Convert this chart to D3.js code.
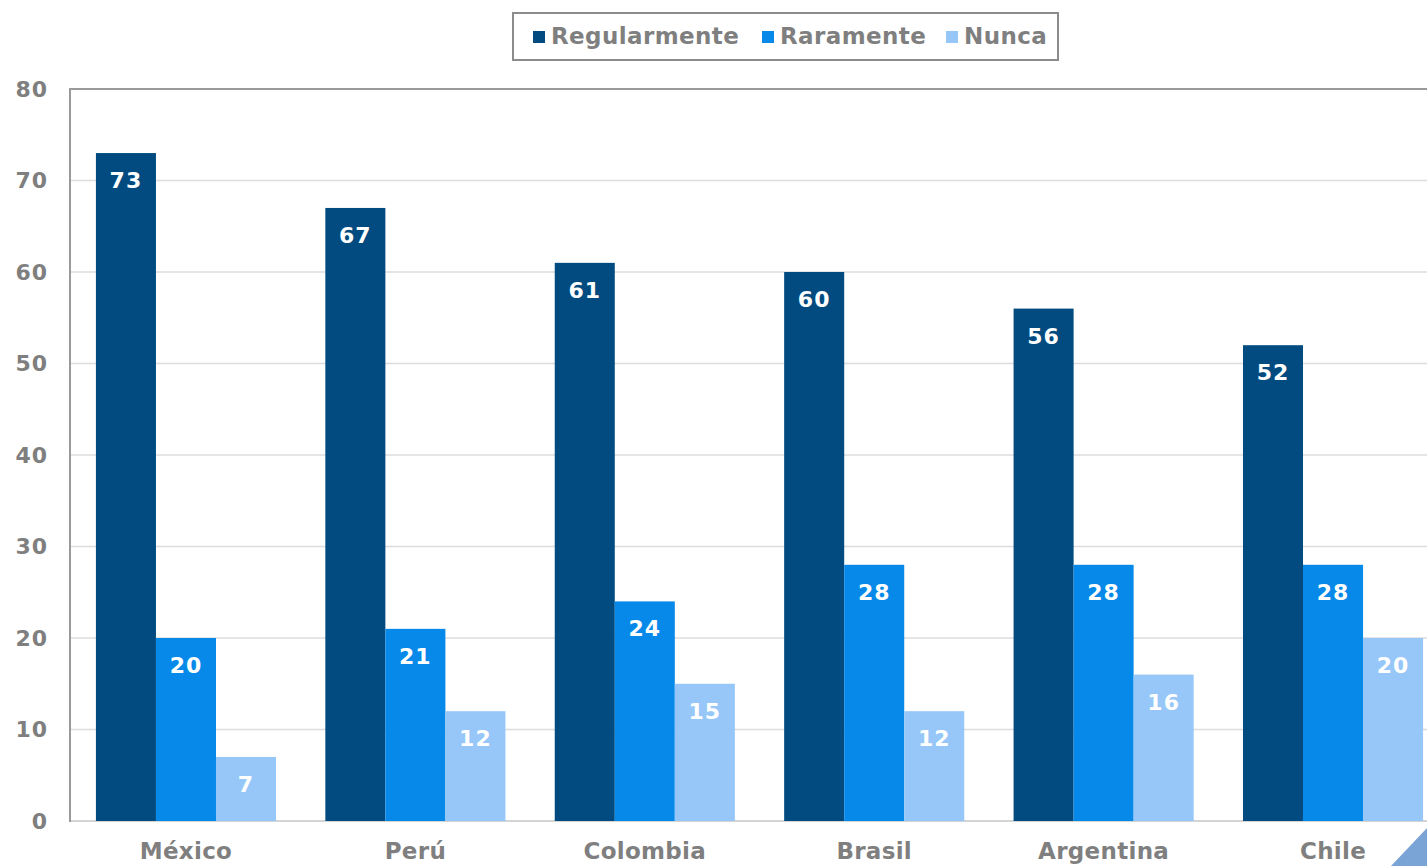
<!DOCTYPE html>
<html>
<head>
<meta charset="utf-8">
<script src="https://cdn.jsdelivr.net/npm/d3@7"></script>
<style>
  html, body { margin: 0; padding: 0; background: #fff; }
  svg { display: block; }
  text { font-family: "DejaVu Sans", Verdana, sans-serif; font-weight: bold; }
</style>
</head>
<body>
<svg id="chart" width="1427" height="866"></svg>
<script>
// Frequency by country
const countries = ["México", "Perú", "Colombia", "Brasil", "Argentina", "Chile"];
const seriesNames = ["Regularmente", "Raramente", "Nunca"];
const regularmente = [73, 67, 61, 60, 56, 52];
const raramente = [20, 21, 24, 28, 28, 28];
const nunca = [7, 12, 15, 12, 16, 20];
const yTicks = [0, 10, 20, 30, 40, 50, 60, 70, 80];
const colors = ["#014b80", "#0789e9", "#96c7f8"];

const seriesValues = [regularmente, raramente, nunca];
const rows = countries.map((c, i) => ({
  country: c,
  values: seriesNames.map((s, j) => ({ series: s, value: seriesValues[j][i], color: colors[j] }))
}));

const svg = d3.select("#chart");
const W = 1427, H = 866;
const plot = { left: 70, top: 89, bottom: 821, right: 1449 };

const x = d3.scaleBand()
  .domain(countries)
  .range([plot.left, plot.right])
  .paddingInner(0.215)
  .paddingOuter(0.113);

const xSub = d3.scaleBand()
  .domain(seriesNames)
  .range([0, x.bandwidth()]);

const y = d3.scaleLinear().domain([0, 80]).range([plot.bottom, plot.top]);

// Gridlines
svg.append("g")
  .selectAll("line")
  .data(yTicks.filter(t => t > 0 && t < 80))
  .join("line")
  .attr("x1", plot.left).attr("x2", W)
  .attr("y1", d => y(d)).attr("y2", d => y(d))
  .attr("stroke", "#dcdcdc").attr("stroke-width", 1.5);

// Bottom baseline
svg.append("line")
  .attr("x1", plot.left).attr("x2", W)
  .attr("y1", y(0)).attr("y2", y(0))
  .attr("stroke", "#d4d4d4").attr("stroke-width", 2);

// Top frame line and left axis line
svg.append("line")
  .attr("x1", plot.left).attr("x2", W)
  .attr("y1", plot.top).attr("y2", plot.top)
  .attr("stroke", "#9a9a9a").attr("stroke-width", 2);
svg.append("line")
  .attr("x1", plot.left).attr("x2", plot.left)
  .attr("y1", plot.top - 1).attr("y2", plot.bottom + 1)
  .attr("stroke", "#9a9a9a").attr("stroke-width", 2);

const fontStack = "'DejaVu Sans', Verdana, sans-serif";

// Y tick labels
const yAxis = d3.axisLeft(y).tickValues(yTicks).tickSize(0).tickPadding(22);
const yg = svg.append("g").attr("transform", `translate(${plot.left},0)`).call(yAxis);
yg.select(".domain").remove();
yg.selectAll("text")
  .attr("fill", "#7f7f7f")
  .style("font-size", "22px")
  .style("letter-spacing", "1px")
  .style("font-family", fontStack)
  .style("font-weight", "bold");

// X category labels
const xAxis = d3.axisBottom(x).tickSize(0).tickPadding(22);
const xg = svg.append("g").attr("transform", `translate(0,${plot.bottom})`).call(xAxis);
xg.select(".domain").remove();
xg.selectAll("text")
  .attr("fill", "#7f7f7f")
  .style("font-size", "23px")
  .style("letter-spacing", "0.3px")
  .style("font-family", fontStack)
  .style("font-weight", "bold");

// Bars
const groups = svg.append("g")
  .selectAll("g")
  .data(rows)
  .join("g")
  .attr("transform", d => `translate(${x(d.country)},0)`);

groups.selectAll("rect")
  .data(d => d.values)
  .join("rect")
  .attr("x", d => xSub(d.series))
  .attr("y", d => y(d.value))
  .attr("width", xSub.bandwidth())
  .attr("height", d => y(0) - y(d.value))
  .attr("fill", d => d.color);

// Value labels inside bar tops
groups.selectAll("text.val")
  .data(d => d.values)
  .join("text")
  .attr("class", "val")
  .attr("x", d => xSub(d.series) + xSub.bandwidth() / 2)
  .attr("y", d => y(d.value) + 35)
  .attr("text-anchor", "middle")
  .attr("fill", "#ffffff")
  .style("font-size", "22px")
  .style("letter-spacing", "1px")
  .text(d => d.value);

// Legend
const legend = svg.append("g");
legend.append("rect")
  .attr("x", 513).attr("y", 13)
  .attr("width", 545).attr("height", 47)
  .attr("fill", "#fff")
  .attr("stroke", "#8c8c8c").attr("stroke-width", 2);

const legendX = [533, 762, 946];
seriesNames.forEach((s, i) => {
  legend.append("rect")
    .attr("x", legendX[i]).attr("y", 31)
    .attr("width", 12).attr("height", 12)
    .attr("fill", colors[i]);
  legend.append("text")
    .attr("x", legendX[i] + 18).attr("y", 44)
    .attr("fill", "#7f7f7f")
    .style("font-size", "23px")
    .style("letter-spacing", "0.4px")
    .text(s);
});

// Folded corner accent
svg.append("path")
  .attr("d", `M${W - 36},${H} L${W},${H - 38} L${W},${H} Z`)
  .attr("fill", "#7aa3d6");
</script>
</body>
</html>
